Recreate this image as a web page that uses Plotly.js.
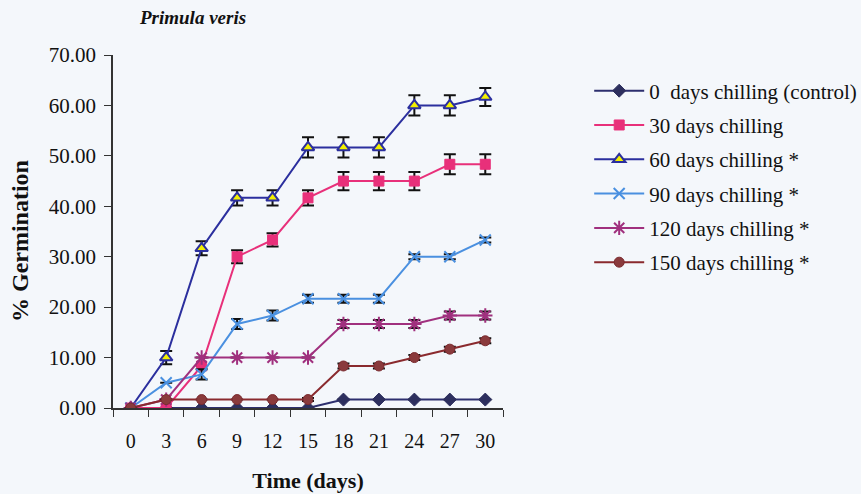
<!DOCTYPE html>
<html><head><meta charset="utf-8">
<script src="https://cdn.plot.ly/plotly-3.0.1.min.js"></script>
<style>html,body{margin:0;padding:0;background:#f4f7fb;}</style>
</head><body>
<div id="chart" style="width:861px;height:494px;"></div>
<script>
const days = ['0','3','6','9','12','15','18','21','24','27','30'];
const seriesNames = ['0  days chilling (control)','30 days chilling','60 days chilling *','90 days chilling *','120 days chilling *','150 days chilling *'];
const control = [0,0,0,0,0,0,1.67,1.67,1.67,1.67,1.67];
const chill30 = [0,0,8.33,30,33.33,41.67,45,45,45,48.33,48.33];
const chill60 = [0,10,31.67,41.67,41.67,51.67,51.67,51.67,60,60,61.67];
const chill90 = [0,5,6.67,16.67,18.33,21.67,21.67,21.67,30,30,33.33];
const chill120 = [0,1.67,10,10,10,10,16.67,16.67,16.67,18.33,18.33];
const chill150 = [0,1.67,1.67,1.67,1.67,1.67,8.33,8.33,10,11.67,13.33];
const err0 = [0,0,0,0,0,0,0,0,0,0,0];
const err30 = [0,0,0,1.3,1.3,1.5,1.8,1.8,1.8,2,2];
const err60 = [0,1.3,1.4,1.5,1.5,2,2,2,2,2,1.8];
const err90 = [0,0,1,1,1,0.8,0.8,0.8,0.5,0.5,0.5];
const err120 = [0,0,0,0,0,0,0.8,0.8,0.8,0.8,0.8];
const err150 = [0,0,0,0,0,0.3,0.5,0.5,0.5,0.5,0.5];

const values = [control, chill30, chill60, chill90, chill120, chill150];
const errs = [err0, err30, err60, err90, err120, err150];
const lineColors = ['#2d2f6e','#e8307a','#2b2f9e','#4a90e0','#a0307e','#8a2a2e'];
const markerDefs = [
  {symbol:'diamond', size:10, color:'#2d2f5e', line:{color:'#2d2f5e', width:1}},
  {symbol:'square', size:10, color:'#e8307a', line:{color:'#e8307a', width:1}},
  {symbol:'triangle-up', size:11, color:'#f2f000', line:{color:'#2b2f9e', width:2}},
  {symbol:'x-thin', size:11, color:'#4a90e0', line:{color:'#4a90e0', width:2}},
  {symbol:'asterisk', size:12, color:'#a0307e', line:{color:'#a0307e', width:2}},
  {symbol:'circle', size:10, color:'#8a3a3c', line:{color:'#7a2a2e', width:1}}
];

const traces = values.map((v,i)=>({
  x: days, y: v, type:'scatter', mode:'lines+markers', name: seriesNames[i],
  legendgroup: 'g'+i,
  line:{color: lineColors[i], width:2},
  marker: markerDefs[i],
  error_y:{type:'data', array: errs[i], visible:true, color:'#111111', thickness:2, width:6}
}));

const layout = {
  width:861, height:494,
  paper_bgcolor:'#f4f7fb', plot_bgcolor:'#f4f7fb',
  margin:{l:113, r:358, t:55, b:86, autoexpand:false},
  font:{family:'"Liberation Serif", "Times New Roman", serif', color:'#111', size:17},
  showlegend:true,
  legend:{x:1.221, y:0.956, xanchor:'left', yanchor:'top', bgcolor:'rgba(0,0,0,0)', itemwidth:50,
    font:{size:21, family:'"Liberation Serif", serif', color:'#111'}, tracegroupgap:4},
  annotations:[
    {text:'<b><i>Primula veris</i></b>', xref:'paper', yref:'paper', x:0.205, y:1.0,
      xanchor:'center', yanchor:'middle', showarrow:false,
      font:{size:19, family:'"Liberation Serif", serif', color:'#111'}, yshift:38},
    {text:'<b>% Germination</b>', xref:'paper', yref:'paper', x:-0.2385, y:0.473, textangle:-90,
      xanchor:'center', yanchor:'middle', showarrow:false,
      font:{size:24, family:'"Liberation Serif", serif', color:'#111'}}
  ],
  xaxis:{type:'category', range:[-0.5,10.5], tickson:'boundaries', ticks:'outside', ticklen:7,
    tickcolor:'#333', showline:true, linecolor:'#333', linewidth:1.5, showgrid:false, zeroline:false,
    ticklabelstandoff:14,
    tickfont:{size:20}, title:{text:'<b>Time (days)</b>', font:{size:22}, standoff:22}},
  yaxis:{range:[0,70], dtick:10, tickformat:'.2f', ticks:'outside', ticklen:7, tickcolor:'#333',
    showline:true, linecolor:'#333', linewidth:1.5, showgrid:false, zeroline:false,
    ticklabelstandoff:4,
    tickfont:{size:21}}
};
Plotly.newPlot('chart', traces, layout, {displayModeBar:false});
</script>
</body></html>
